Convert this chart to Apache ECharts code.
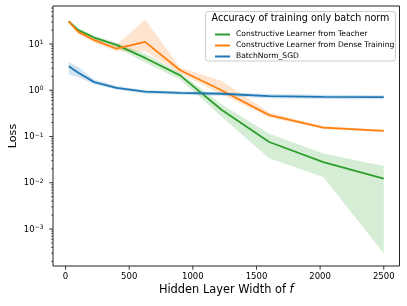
<!DOCTYPE html>
<html>
<head>
<meta charset="utf-8">
<script src="https://cdn.jsdelivr.net/npm/echarts@6/dist/echarts.min.js"></script>
<style>html,body{margin:0;padding:0;background:#fff;}#c{width:407px;height:306px;}</style>
</head>
<body>
<div id="c"></div>
<script>
// ---- data ----
const widths = [25, 100, 225, 400, 625, 900, 1225, 1600, 2025, 2500];
const teacherMean = [31, 20, 13.8, 9.6, 5.0, 2.1, 0.38, 0.076, 0.028, 0.0123];
const teacherLow  = [28, 18, 12.3, 8.4, 4.0, 1.7, 0.27, 0.034, 0.0133, 0.0003];
const teacherHigh = [33, 22, 15, 10.5, 6.2, 2.4, 0.5, 0.115, 0.043, 0.023];
const denseMean = [31, 18.3, 12.1, 7.9, 11.1, 2.7, 1.0, 0.29, 0.155, 0.132];
const denseLow  = [28, 16.5, 10.8, 7.0, 7.0, 2.3, 0.82, 0.26, 0.145, 0.125];
const denseHigh = [33, 20, 13.3, 9.5, 34, 3.1, 1.6, 0.33, 0.168, 0.14];
const sgdMean = [3.3, 2.4, 1.5, 1.13, 0.93, 0.88, 0.84, 0.75, 0.72, 0.71];
const sgdLow  = [2.2, 1.9, 1.35, 1.03, 0.84, 0.80, 0.76, 0.67, 0.65, 0.64];
const sgdHigh = [4.1, 3.2, 1.7, 1.25, 1.0, 0.95, 0.92, 0.83, 0.80, 0.78];
const seriesNames = ['Constructive Learner from Teacher', 'Constructive Learner from Dense Training', 'BatchNorm_SGD'];
const xTicks = [0, 500, 1000, 1500, 2000, 2500];
const yTickExps = [-3, -2, -1, 0, 1];
const minorMultipliers = [2, 3, 4, 5, 6, 7, 8, 9];
const legendTitle = 'Accuracy of training only batch norm';

// ---- layout / styles ----
const X_MIN = -98.75, X_MAX = 2623.75;
const Y_MIN = -3.80, Y_MAX = 1.822;
const FONT = 'DejaVu Sans';
const colors = ['#2ca02c', '#ff7f0e', '#1f77b4'];
const bandColors = ['rgba(44,160,44,0.2)', 'rgba(255,127,14,0.2)', 'rgba(31,119,180,0.2)'];
const lg = Math.log10;

const groups = [
  [teacherMean, teacherLow, teacherHigh],
  [denseMean, denseLow, denseHigh],
  [sgdMean, sgdLow, sgdHigh]
];

const series = [];
groups.forEach((g, k) => {
  const [mean, low, high] = g;
  const bandData = widths.map((w, i) => [w, lg(low[i]), lg(high[i])]);
  series.push({
    name: 'band' + k, type: 'custom', coordinateSystem: 'cartesian2d', silent: true, z: 2,
    encode: { x: 0, y: [1, 2] },
    data: bandData,
    renderItem: function (params, api) {
      if (params.dataIndex !== 0) return null;
      const pts = [];
      for (let i = 0; i < bandData.length; i++) pts.push(api.coord([bandData[i][0], bandData[i][2]]));
      for (let i = bandData.length - 1; i >= 0; i--) pts.push(api.coord([bandData[i][0], bandData[i][1]]));
      return { type: 'polygon', shape: { points: pts }, style: { fill: bandColors[k], stroke: null } };
    }
  });
  series.push({
    name: seriesNames[k], type: 'line',
    data: widths.map((w, i) => [w, lg(mean[i])]),
    showSymbol: false, symbol: 'none', color: colors[k],
    lineStyle: { color: colors[k], width: 1.8 }, itemStyle: { color: colors[k] }, z: 3
  });
});

// tick data
const yTickData = [];
yTickExps.forEach(e => yTickData.push([X_MIN, e, 1, e]));
for (let e = -4; e <= 1; e++) {
  minorMultipliers.forEach(m => {
    const v = lg(m) + e;
    if (v > Y_MIN && v < Y_MAX) yTickData.push([X_MIN, v, 0, e]);
  });
}
const xTickData = xTicks.map(v => [v, Y_MIN]);

series.push({
  type: 'custom', coordinateSystem: 'cartesian2d', silent: true, clip: false, z: 5,
  encode: { x: 0, y: 1 },
  data: yTickData,
  renderItem: function (params, api) {
    const p = api.coord([api.value(0), api.value(1)]);
    const major = api.value(2) === 1;
    const len = major ? 3.8 : 2;
    const children = [{
      type: 'line',
      shape: { x1: p[0] - len, y1: p[1], x2: p[0], y2: p[1] },
      style: { stroke: '#222', lineWidth: major ? 0.9 : 0.7 }
    }];
    if (major) {
      const e = api.value(3);
      const es = e < 0 ? '\u2212' + (-e) : String(e);
      children.push({
        type: 'text', x: p[0] - 9.5, y: p[1] + 0.5,
        style: {
          text: '{b|10}{s|' + es + '}',
          align: 'right', verticalAlign: 'middle',
          rich: {
            b: { fontSize: 8.5, fontFamily: FONT, fill: '#000', lineHeight: 10 },
            s: { fontSize: 6, fontFamily: FONT, fill: '#000', verticalAlign: 'top', lineHeight: 10, padding: [0, 0, 5, 0] }
          }
        }
      });
    }
    return { type: 'group', children: children };
  }
});

series.push({
  type: 'custom', coordinateSystem: 'cartesian2d', silent: true, clip: false, z: 5,
  encode: { x: 0, y: 1 },
  data: xTickData,
  renderItem: function (params, api) {
    const v = api.value(0);
    const p = api.coord([v, api.value(1)]);
    return {
      type: 'group', children: [
        { type: 'line', shape: { x1: p[0], y1: p[1], x2: p[0], y2: p[1] + 3.8 }, style: { stroke: '#222', lineWidth: 0.9 } },
        { type: 'text', x: p[0], y: p[1] + 6, style: { text: String(v), align: 'center', verticalAlign: 'top', fontSize: 8.5, fontFamily: FONT, fill: '#000' } }
      ]
    };
  }
});

const chart = echarts.init(document.getElementById('c'), null, { renderer: 'canvas' });
chart.setOption({
  animation: false,
  backgroundColor: '#fff',
  grid: { left: 52, top: 6, width: 347.5, height: 260, show: true, borderColor: '#222', borderWidth: 1, backgroundColor: 'transparent', containLabel: false },
  xAxis: {
    type: 'value', min: X_MIN, max: X_MAX,
    axisLine: { show: false }, axisTick: { show: false }, axisLabel: { show: false }, splitLine: { show: false },
    name: '{n|Hidden Layer Width of }{i|f}', nameLocation: 'middle', nameGap: 19,
    nameTextStyle: { rich: { n: { fontSize: 11.4, fontFamily: FONT, color: '#000' }, i: { fontSize: 11.4, fontFamily: FONT, fontStyle: 'italic', color: '#000' } } }
  },
  yAxis: {
    type: 'value', min: Y_MIN, max: Y_MAX,
    axisLine: { show: false }, axisTick: { show: false }, axisLabel: { show: false }, splitLine: { show: false },
    name: 'Loss', nameLocation: 'middle', nameGap: 34, nameRotate: 90,
    nameTextStyle: { fontSize: 11.2, fontFamily: FONT, color: '#000' }
  },
  legend: {
    data: seriesNames, orient: 'vertical', left: 210, top: 24, z: 20,
    itemWidth: 15, itemHeight: 2, itemGap: 0, icon: 'rect',
    selectedMode: false,
    textStyle: { fontSize: 7.6, fontFamily: FONT, color: '#000', lineHeight: 11, padding: [0, 0, 0, 1] }
  },
  graphic: [
    { type: 'rect', z: 10, shape: { x: 205.5, y: 11.5, width: 190, height: 49.5, r: 2.5 }, style: { fill: 'rgba(255,255,255,0.8)', stroke: '#cccccc', lineWidth: 1 } },
    { type: 'text', z: 11, x: 300.5, y: 18.5, style: { text: legendTitle, align: 'center', verticalAlign: 'middle', fontSize: 9.6, fontFamily: FONT, fill: '#000' } }
  ],
  series: series
});
</script>
</body>
</html>
